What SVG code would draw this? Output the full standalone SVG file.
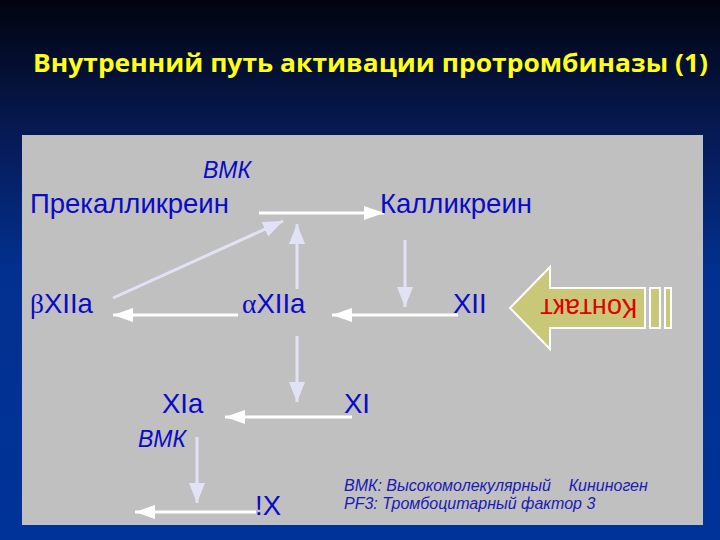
<svg xmlns="http://www.w3.org/2000/svg" width="720" height="540" viewBox="0 0 720 540">
<defs>
<linearGradient id="bg" x1="0" y1="0" x2="0" y2="1">
<stop offset="0" stop-color="#01040f"/>
<stop offset="0.25" stop-color="#061a55"/>
<stop offset="0.5" stop-color="#02308f"/>
<stop offset="1" stop-color="#003399"/>
</linearGradient>
<marker id="hw" viewBox="0 0 20 14" refX="20" refY="7" markerWidth="20" markerHeight="14" markerUnits="userSpaceOnUse" orient="auto">
<path d="M0,0 L20,7 L0,14 Z" fill="#ffffff"/>
</marker>
<marker id="hl" viewBox="0 0 20 16" refX="20" refY="8" markerWidth="20" markerHeight="16" markerUnits="userSpaceOnUse" orient="auto">
<path d="M0,0 L20,8 L0,16 Z" fill="#e2e2f6"/>
</marker>
<style>
.t{font-family:"Liberation Sans",Arial,sans-serif;font-size:27.5px;fill:#0a0ac8}
.g{font-family:"Liberation Serif","Times New Roman",serif}
.i{font-family:"Liberation Sans",Arial,sans-serif;font-size:23px;font-style:italic;fill:#0a0ac8}
.lg{font-family:"Liberation Sans",Arial,sans-serif;font-size:16px;font-style:italic;fill:#1a1ab4}
.w{stroke:#ffffff;stroke-width:3;fill:none;marker-end:url(#hw)}
.l{stroke:#e2e2f6;stroke-width:3;fill:none;marker-end:url(#hl)}
</style>
</defs>
<rect x="0" y="0" width="720" height="540" fill="url(#bg)"/>
<text x="33" y="72" font-family="'Open Sans','Noto Sans',sans-serif" font-weight="bold" font-size="25" fill="#ffff1a" textLength="675" lengthAdjust="spacingAndGlyphs">Внутренний путь активации протромбиназы (1)</text>
<rect x="22" y="135" width="681" height="390" fill="#c0c0c0"/>

<g id="connectors">
<line class="w" x1="259" y1="213" x2="384" y2="213"/>
<line class="l" x1="113" y1="298" x2="283" y2="221"/>
<line class="l" x1="297" y1="289" x2="297" y2="224"/>
<line class="w" x1="238" y1="315" x2="113" y2="315"/>
<line class="w" x1="458" y1="315" x2="332" y2="315"/>
<line class="l" x1="405" y1="240" x2="405" y2="307"/>
<line class="l" x1="297" y1="336" x2="297" y2="402"/>
<line class="w" x1="352" y1="417" x2="225" y2="417"/>
<line class="l" x1="197" y1="437" x2="197" y2="503"/>
<line class="w" x1="256" y1="512" x2="135" y2="512"/>
</g>

<g id="contact">
<path d="M510,308 L550,267 L550,288 L645,288 L645,328 L550,328 L550,349 Z" fill="#c8c878" stroke="#ffffff" stroke-width="2"/>
<rect x="650" y="288" width="10" height="40" fill="#c8c878" stroke="#ffffff" stroke-width="2"/>
<rect x="665" y="288" width="6" height="40" fill="#c8c878" stroke="#ffffff" stroke-width="2"/>
<text transform="translate(589,308) rotate(180)" text-anchor="middle" dominant-baseline="central" font-family="'Liberation Sans',Arial,sans-serif" font-size="27" fill="#e00000">Контакт</text>
</g>

<g id="vmk1"><text class="i" x="203" y="178">ВМК</text></g>
<g id="prekallikrein"><text class="t" x="30" y="213">Прекалликреин</text></g>
<g id="kallikrein"><text class="t" x="380" y="213">Калликреин</text></g>
<g id="bXIIa"><text class="t" x="30" y="313"><tspan class="g">β</tspan>XIIa</text></g>
<g id="aXIIa"><text class="t" x="242" y="313"><tspan class="g">α</tspan>XIIa</text></g>
<g id="XII"><text class="t" x="453" y="313">XII</text></g>
<g id="XIa"><text class="t" x="162" y="413">XIa</text></g>
<g id="XI"><text class="t" x="344" y="413">XI</text></g>
<g id="vmk2"><text class="i" x="138" y="447">ВМК</text></g>
<g id="IX"><text class="t" x="255" y="515">!X</text></g>
<g id="legend">
<text class="lg" x="344" y="491" xml:space="preserve">ВМК: Высокомолекулярный    Кининоген</text>
<text class="lg" x="344" y="509">PF3: Тромбоцитарный фактор 3</text>
</g>
</svg>
